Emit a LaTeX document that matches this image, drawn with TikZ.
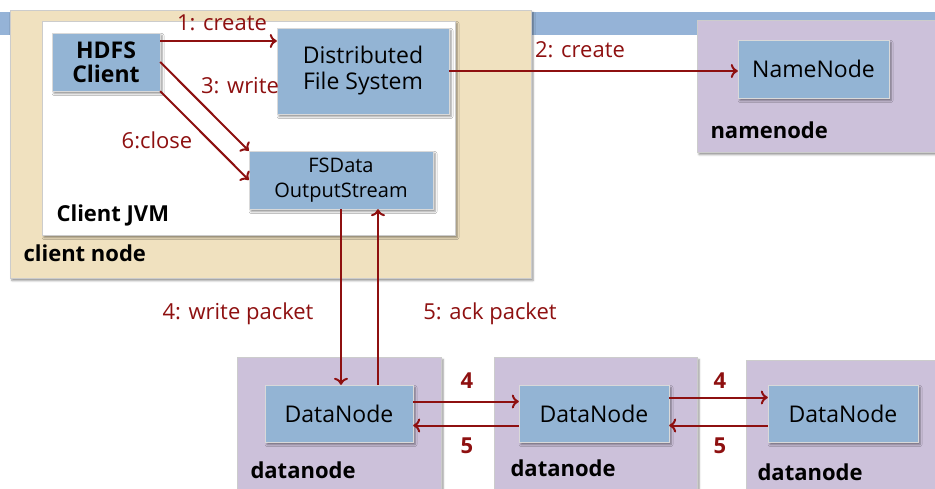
\documentclass[tikz,border=0pt]{standalone}
\usepackage{fontspec}
\setmainfont{Open Sans}
\usepackage{tikz}
\usetikzlibrary{shadows.blur,arrows.meta}
\definecolor{hosttan}{HTML}{F0E1BF}
\definecolor{hostlilac}{HTML}{CCC1DA}
\definecolor{procblue}{HTML}{93B4D4}
\definecolor{barblue}{HTML}{95B3D7}
\definecolor{msgred}{HTML}{8E1010}
\tikzset{
   boxshadow/.style={blur shadow={shadow xshift=2pt, shadow yshift=-2.5pt, shadow blur radius=2pt, shadow opacity=45}},
   hostbox/.style={draw=black!20, line width=0.8pt, boxshadow, inner sep=0pt},
   procbox/.style={draw=black!15, fill=procblue, boxshadow, inner sep=0pt, align=center,
                   minimum height=58pt, font=\fontsize{23}{26}\selectfont},
   hostlabel/.style={anchor=base west, font=\fontsize{22}{24}\selectfont\bfseries},
   msg/.style={text=msgred, font=\fontsize{22}{24}\selectfont},
   num/.style={text=msgred, font=\fontsize{22}{24}\selectfont\bfseries},
   call/.style={draw=msgred, line width=2pt, -{To[length=7pt,width=14pt]}}
}

\begin{document}
\begin{tikzpicture}[x=1pt,y=-1pt]
\useasboundingbox (0,0) rectangle (935,489);

% title bar behind everything
\fill[barblue] (0,12) rectangle (935,35);

% client side
\node[hostbox, fill=hosttan, minimum width=521pt, minimum height=268pt] (clientnode) at (270.5,144) {};
\node[hostbox, fill=white, minimum width=413pt, minimum height=214pt] (jvm) at (248.5,128) {};
\node[hostlabel] (clientnodelbl) at (20,262) {client node};
\node[hostlabel] (jvmlbl) at (53,222) {Client JVM};

\node[procbox, minimum width=108pt, font=\fontsize{23}{24}\selectfont\bfseries] (hdfs) at (106,62) {HDFS\\Client};
\node[procbox, minimum width=172pt, minimum height=86pt] (dfs) at (363,71) {Distributed\\File System};
\node[procbox, minimum width=184pt, font=\fontsize{20}{25}\selectfont] (fsdata) at (341,180) {FSData\\OutputStream};

% namenode
\node[hostbox, fill=hostlilac, minimum width=250pt, minimum height=132pt] (nnhost) at (822,86) {};
\node[hostlabel] (nnlbl) at (707,139) {namenode};
\node[procbox, minimum width=151pt] (nn) at (813.5,69) {NameNode};

% datanodes
\node[hostbox, fill=hostlilac, minimum width=204pt, minimum height=140pt] (dnhost1) at (339,427) {};
\node[hostbox, fill=hostlilac, minimum width=203pt, minimum height=140pt] (dnhost2) at (595.5,427) {};
\node[hostbox, fill=hostlilac, minimum width=205pt, minimum height=136pt] (dnhost3) at (848.5,428) {};
\node[hostlabel] (dnlbl1) at (247,478) {datanode};
\node[hostlabel] (dnlbl2) at (507,476) {datanode};
\node[hostlabel] (dnlbl3) at (754,480) {datanode};
\node[procbox, minimum width=148pt, minimum height=57pt] (dn1) at (339,413.5) {DataNode};
\node[procbox, minimum width=150pt, minimum height=57pt] (dn2) at (594,413.5) {DataNode};
\node[procbox, minimum width=150pt, minimum height=57pt] (dn3) at (843,413.5) {DataNode};

% calls
\path[call] ([yshift=21pt]hdfs.east) -- ([yshift=21pt]hdfs.east -| dfs.west);
\path[call] (hdfs.east) -- (fsdata.north west);
\path[call] (hdfs.south east) -- (fsdata.west);
\path[call] (dfs.east) -- (dfs.east -| nn.west);
\path[call] (fsdata.south) -- (fsdata.south |- dn1.north);
\path[call] ([xshift=39pt]dn1.north) -- ([xshift=39pt]dn1.north |- fsdata.south);
\path[call] ([yshift=12pt]dn1.east) -- ([yshift=12pt]dn2.west);
\path[call] ([yshift=-12pt]dn2.west) -- ([yshift=-12pt]dn1.east);
\path[call] ([yshift=16pt]dn2.east) -- ([yshift=16pt]dn3.west);
\path[call] ([yshift=-12pt]dn3.west) -- ([yshift=-12pt]dn2.east);

\node[msg] (m1) at (222,23) {1: create};
\node[msg] (m2) at (580,50) {2: create};
\node[msg] (m3) at (240,86) {3: write};
\node[msg] (m6) at (157,140) {6:close};
\node[msg] (m4) at (238,314) {4: write packet};
\node[msg] (m5) at (490,314) {5: ack packet};
\node[num] (n4a) at (467,381) {4};
\node[num] (n5a) at (467,446) {5};
\node[num] (n4b) at (720,381) {4};
\node[num] (n5b) at (720,446) {5};

\end{tikzpicture}
\end{document}
